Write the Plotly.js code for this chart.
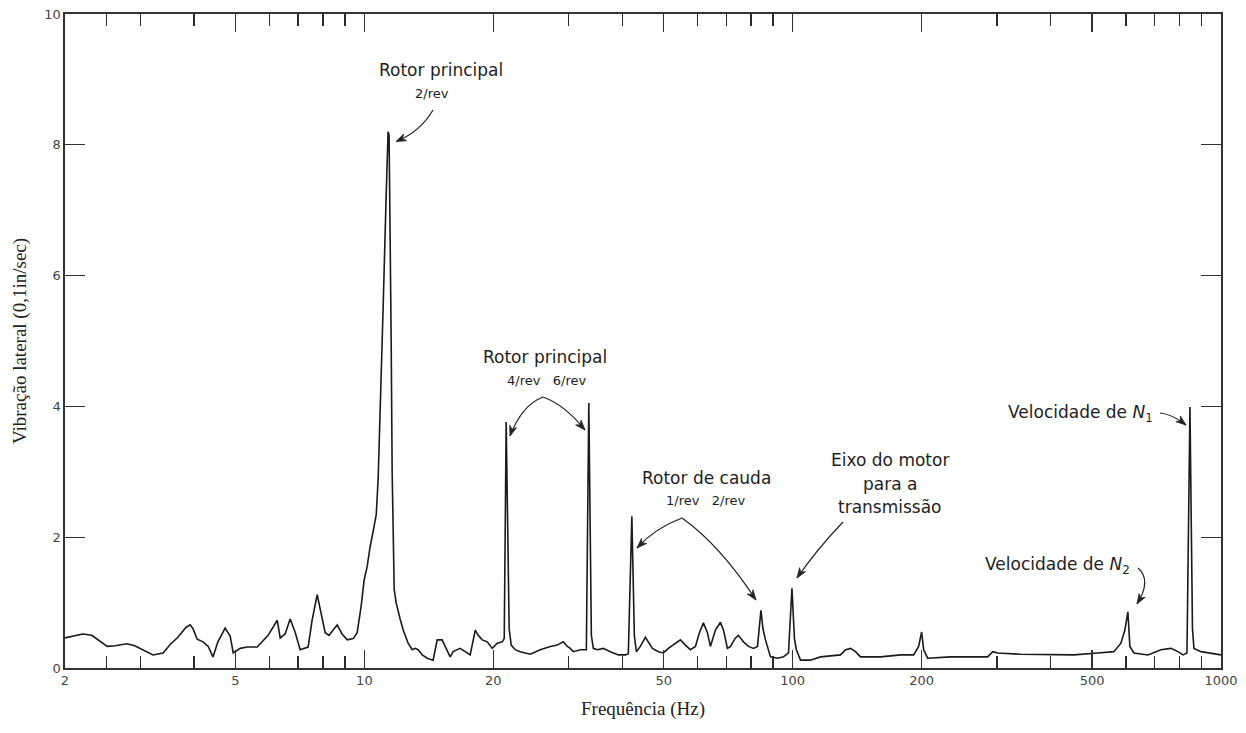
<!DOCTYPE html>
<html>
<head>
<meta charset="utf-8">
<script src="https://cdn.plot.ly/plotly-3.0.1.min.js"></script>
<style>html,body{margin:0;padding:0;background:#fff;}#chart{width:1246px;height:733px;}</style>
</head>
<body>
<div id="chart"></div>
<script>
// Frequency (Hz) and lateral vibration (0.1 in/sec)
const freq = [2.00, 2.11, 2.20, 2.31, 2.41, 2.51, 2.62, 2.79, 2.91, 3.08,
  3.21, 3.39, 3.52, 3.67, 3.83, 3.92, 3.98, 4.07, 4.20, 4.32,
  4.43, 4.55, 4.73, 4.86, 4.94, 5.13, 5.32, 5.62, 5.96, 6.26,
  6.36, 6.53, 6.71, 6.89, 7.08, 7.39, 7.55, 7.76, 7.93, 8.10,
  8.27, 8.64, 8.87, 9.12, 9.42, 9.62, 9.83, 9.99, 10.15, 10.31,
  10.49, 10.66, 10.77, 10.89, 11.06, 11.24, 11.36, 11.42, 11.48, 11.55,
  11.61, 11.67, 11.74, 11.86, 11.99, 12.12, 12.32, 12.65, 12.93, 13.14,
  13.35, 13.65, 14.02, 14.47, 14.79, 15.19, 15.44, 15.86, 16.12, 16.73,
  17.19, 17.66, 18.15, 18.44, 18.84, 19.36, 19.89, 20.43, 20.98, 21.21,
  21.43, 21.78, 22.02, 22.50, 23.11, 24.40, 25.74, 27.16, 28.21, 29.13,
  29.77, 30.25, 30.75, 31.93, 32.98, 33.42, 33.88, 34.24, 34.98, 36.13,
  37.52, 39.17, 40.67, 41.33, 42.12, 42.69, 43.15, 44.09, 45.29, 46.03,
  47.04, 48.58, 49.90, 51.26, 53.23, 54.68, 56.17, 57.70, 59.28, 60.57,
  61.88, 63.23, 64.26, 66.01, 67.81, 68.92, 70.41, 71.56, 73.51, 74.71,
  76.75, 78.84, 80.98, 82.75, 84.32, 85.23, 86.39, 88.74, 92.16, 95.18,
  97.77, 99.60, 100.95, 102.0, 104.3, 110.0, 116.2, 122.6, 129.3, 132.9,
  136.5, 140.2, 144.0, 160.4, 178.6, 191.6, 196.8, 200.0, 202.2, 206.6,
  233.8, 264.6, 285.3, 293.1, 301.1, 340.8, 394.1, 453.3, 515.8, 562.2,
  583.8, 596.5, 606.2, 612.7, 626.1, 675.1, 724.0, 764.1, 793.4, 815.0,
  832.8, 846.3, 857.8, 864.7, 897.9, 947.5, 1000];

const vib = [0.46, 0.50, 0.52, 0.50, 0.42, 0.33, 0.34, 0.37, 0.34, 0.26,
  0.20, 0.23, 0.36, 0.47, 0.62, 0.66, 0.60, 0.44, 0.40, 0.33,
  0.17, 0.40, 0.61, 0.49, 0.23, 0.30, 0.32, 0.32, 0.50, 0.73,
  0.46, 0.52, 0.75, 0.55, 0.28, 0.32, 0.73, 1.12, 0.80, 0.54,
  0.50, 0.66, 0.52, 0.43, 0.45, 0.54, 0.95, 1.35, 1.55, 1.85,
  2.10, 2.35, 2.90, 3.90, 5.50, 7.20, 8.20, 8.15, 7.00, 5.00,
  3.00, 1.80, 1.20, 1.00, 0.85, 0.75, 0.58, 0.38, 0.28, 0.30,
  0.28, 0.20, 0.15, 0.12, 0.43, 0.43, 0.33, 0.17, 0.25, 0.30,
  0.25, 0.20, 0.58, 0.50, 0.43, 0.40, 0.30, 0.38, 0.40, 0.45,
  3.76, 0.60, 0.35, 0.28, 0.25, 0.21, 0.28, 0.33, 0.35, 0.40,
  0.33, 0.30, 0.25, 0.28, 0.28, 4.05, 0.50, 0.30, 0.28, 0.30,
  0.25, 0.20, 0.20, 0.22, 2.32, 0.50, 0.25, 0.33, 0.47, 0.40,
  0.30, 0.25, 0.23, 0.30, 0.38, 0.43, 0.35, 0.28, 0.33, 0.54,
  0.69, 0.54, 0.33, 0.58, 0.70, 0.58, 0.30, 0.33, 0.46, 0.50,
  0.40, 0.33, 0.30, 0.33, 0.88, 0.60, 0.43, 0.17, 0.15, 0.17,
  0.23, 1.22, 0.45, 0.28, 0.12, 0.12, 0.17, 0.18, 0.20, 0.28,
  0.30, 0.25, 0.17, 0.17, 0.20, 0.20, 0.33, 0.55, 0.28, 0.15,
  0.17, 0.17, 0.17, 0.25, 0.23, 0.21, 0.20, 0.20, 0.23, 0.25,
  0.38, 0.58, 0.86, 0.33, 0.23, 0.20, 0.28, 0.30, 0.25, 0.20,
  0.23, 3.99, 0.60, 0.30, 0.25, 0.23, 0.20];

const xMajorTicks = [2, 5, 10, 20, 50, 100, 200, 500, 1000];
const xMajorLabels = ['2', '5', '10', '20', '50', '100', '200', '500', '1000'];
const xMinorTicks = [2.5, 3, 4, 6, 7, 8, 9, 30, 40, 60, 70, 80, 90, 300, 400, 600, 700, 800, 900];
const yTicks = [0, 2, 4, 6, 8, 10];

const X_MIN = 2, X_MAX = 1000;

// Plot-area geometry in pixels (for annotation/arrow placement only)
const L = 65, R = 1221, T = 14, B = 668;
const W = 1246, H = 733;
function px(x) { return (x - L) / (R - L); }
function py(y) { return (B - y) / (B - T); }

const labelFont = {family: 'DejaVu Sans, sans-serif', size: 17, color: '#1e1e1e'};
const subFont = {family: 'DejaVu Sans, sans-serif', size: 13, color: '#1e1e1e'};

function txt(x, y, text, font, anchor) {
  return {xref: 'paper', yref: 'paper', x: px(x), y: py(y), text: text, showarrow: false,
    xanchor: anchor || 'center', yanchor: 'middle', font: font};
}
function curve(x0, y0, cx, cy, x1, y1) {
  return {type: 'path', xref: 'paper', yref: 'paper',
    path: 'M ' + px(x0) + ' ' + py(y0) + ' Q ' + px(cx) + ' ' + py(cy) + ' ' + px(x1) + ' ' + py(y1),
    line: {color: '#222', width: 1.2}};
}
// filled arrowhead: tip at (tx,ty), pointing away from (ox,oy)
function arrowHead(tx, ty, ox, oy) {
  const dx = tx - ox, dy = ty - oy, n = Math.sqrt(dx * dx + dy * dy);
  const ux = dx / n, uy = dy / n, len = 10, half = 3.6;
  const bx = tx - ux * len, by = ty - uy * len;
  const p1x = bx - uy * half, p1y = by + ux * half;
  const p2x = bx + uy * half, p2y = by - ux * half;
  const mx = tx - ux * len * 0.7, my = ty - uy * len * 0.7;
  return {type: 'path', xref: 'paper', yref: 'paper',
    path: 'M ' + px(tx) + ' ' + py(ty) + ' L ' + px(p1x) + ' ' + py(p1y) + ' L ' + px(mx) + ' ' + py(my) +
      ' L ' + px(p2x) + ' ' + py(p2y) + ' Z',
    fillcolor: '#222', line: {color: '#222', width: 0.8}};
}

const annotations = [
  txt(441, 70, 'Rotor principal', labelFont),
  txt(432, 93, '2/rev', subFont),
  txt(545, 357, 'Rotor principal', labelFont),
  txt(547, 380, '4/rev &nbsp; 6/rev', subFont),
  txt(706, 478, 'Rotor de cauda', labelFont),
  txt(706, 501, '1/rev &nbsp; 2/rev', subFont),
  txt(890, 460, 'Eixo do motor', labelFont),
  txt(890, 484, 'para a', labelFont),
  txt(890, 507, 'transmissão', labelFont),
  txt(1155, 413, 'Velocidade de <i>N</i><sub>1</sub>', labelFont, 'right'),
  txt(1132, 565, 'Velocidade de <i>N</i><sub>2</sub>', labelFont, 'right')
];

const shapes = [
  curve(433, 110, 420, 132, 397, 141),
  arrowHead(396, 141.5, 406, 137),
  curve(543, 397, 522, 405, 510, 436),
  arrowHead(510, 436, 514, 424),
  curve(543, 397, 565, 405, 585, 430),
  arrowHead(585, 430, 577, 421),
  curve(682, 518, 655, 528, 637, 548),
  arrowHead(637, 548, 647, 538),
  curve(682, 518, 720, 545, 756, 600),
  arrowHead(756, 600, 748, 589),
  curve(843, 522, 818, 548, 797, 578),
  arrowHead(797, 578, 805, 566),
  curve(1160, 413, 1172, 414, 1186, 425),
  arrowHead(1186, 425, 1177, 418),
  curve(1138, 568, 1152, 580, 1137, 604),
  arrowHead(1137, 604, 1143, 594)
];

const trace = {
  x: freq, y: vib, type: 'scatter', mode: 'lines',
  line: {color: '#1a1a1a', width: 1.6, shape: 'linear'},
  hoverinfo: 'skip'
};

const axisColor = '#333';
const tickFont = {family: 'DejaVu Sans, sans-serif', size: 13, color: '#444'};
const layout = {
  width: W, height: H,
  margin: {l: L, r: W - R, t: T, b: H - B, pad: 0},
  paper_bgcolor: '#fff', plot_bgcolor: '#fff',
  showlegend: false,
  xaxis: {
    type: 'log', range: [Math.log10(X_MIN), Math.log10(X_MAX)],
    tickmode: 'array', tickvals: xMajorTicks, ticktext: xMajorLabels,
    ticks: 'inside', ticklen: 18, tickwidth: 1.4, tickcolor: axisColor,
    minor: {tickmode: 'array', tickvals: xMinorTicks, ticks: 'inside', ticklen: 12,
      tickwidth: 1.5, tickcolor: '#2a2a2a', showgrid: false},
    showline: true, linecolor: axisColor, linewidth: 1.6, mirror: 'ticks',
    showgrid: false, zeroline: false,
    tickfont: tickFont,
    title: {text: 'Frequência (Hz)', font: {family: 'Liberation Serif, serif', size: 19, color: '#222'}, standoff: 14}
  },
  yaxis: {
    range: [0, 10], tickmode: 'array', tickvals: yTicks,
    ticks: 'inside', ticklen: 20, tickwidth: 1.3, tickcolor: axisColor,
    showline: true, linecolor: axisColor, linewidth: 1.6, mirror: 'ticks',
    showgrid: false, zeroline: false,
    tickfont: tickFont,
    title: {text: 'Vibração lateral (0,1in/sec)', font: {family: 'Liberation Serif, serif', size: 19, color: '#222'}, standoff: 12}
  },
  annotations: annotations,
  shapes: shapes
};

Plotly.newPlot('chart', [trace], layout, {displayModeBar: false, staticPlot: true});
</script>
</body>
</html>
